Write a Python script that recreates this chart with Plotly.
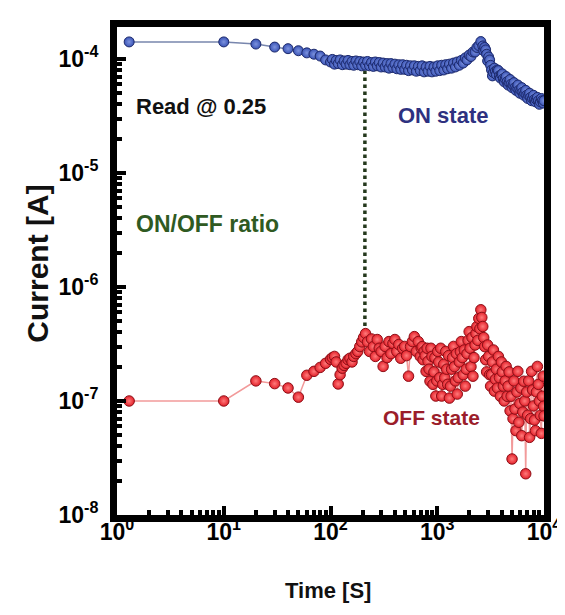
import plotly.graph_objects as go

# ---------------- data ----------------
time_s = [1.3, 10, 20, 30, 40, 50, 60, 70, 80, 90,
          100, 104, 109, 113, 118, 123, 129, 134, 140, 146,
          152, 159, 165, 173, 180, 188, 196, 204, 213, 222,
          232, 242, 252, 263, 274, 286, 298, 311, 325, 339,
          353, 368, 384, 401, 418, 436, 455, 474, 495, 516,
          538, 561, 585, 610, 637, 664, 693, 722, 753, 786,
          820, 855, 892, 930, 970, 1010, 1055, 1100, 1150, 1200,
          1250, 1300, 1360, 1420, 1480, 1540, 1610, 1680, 1750, 1830,
          1900, 1990, 2070, 2160, 2260, 2350, 2450, 2560, 2670, 2780,
          2900, 3030, 3160, 3290, 3430, 3580, 3740, 3900, 4070, 4240,
          4420, 4610, 4810, 5020, 5230, 5460, 5690, 5940, 6190, 6460,
          6740, 7030, 7330, 7650, 7970, 8320, 8670, 9050, 9440, 9840,
          10000]

# ON-state current, in units of 1e-5 A
on_current_e5 = [14.1, 14.1, 13.5, 12.7, 12.3, 11.8, 11.3, 11.0, 10.6, 9.8,
                 9.4, 9.9, 9.0, 9.7, 9.1, 9.8, 8.9, 9.6, 9.0, 9.7,
                 8.9, 9.5, 8.8, 9.6, 8.9, 9.5, 8.7, 9.4, 8.8, 9.5,
                 8.7, 9.3, 8.6, 9.4, 8.7, 9.3, 8.5, 9.2, 8.5, 9.1,
                 8.3, 9.1, 8.4, 9.0, 8.2, 8.9, 8.1, 8.9, 8.1, 8.8,
                 7.9, 8.7, 8.0, 8.7, 7.8, 8.6, 7.9, 8.7, 7.7, 8.5,
                 7.8, 8.6, 7.7, 8.5, 7.8, 8.7, 7.9, 8.8, 8.0, 8.9,
                 8.2, 9.0, 8.3, 9.2, 8.5, 9.4, 8.8, 9.7, 9.2, 10.2,
                 9.8, 10.8, 10.5, 11.5, 11.5, 12.6, 13.1, 14.2, 13.0, 12.6,
                 11.0, 10.4, 8.8, 7.1, 8.3, 7.3, 7.9, 6.8, 7.4, 6.3,
                 7.0, 5.9, 6.6, 5.6, 6.2, 5.3, 5.9, 5.0, 5.6, 4.8,
                 5.3, 4.5, 5.0, 4.3, 4.8, 4.2, 4.6, 4.0, 4.5, 4.1,
                 4.3]

# OFF-state current, in units of 1e-7 A
off_current_e7 = [1.0, 1.0, 1.5, 1.42, 1.3, 1.08, 1.68, 1.82, 1.97, 2.14,
                  2.32, 2.40, 2.46, 2.2, 1.41, 1.7, 1.94, 2.05, 2.14, 2.3,
                  2.37, 2.2, 2.46, 2.6, 2.72, 3.0, 3.3, 3.6, 3.9, 3.3,
                  2.72, 3.5, 3.0, 2.46, 3.46, 2.9, 2.72, 2.01, 3.01, 2.4,
                  3.32, 2.6, 3.2, 3.46, 2.72, 3.13, 2.37, 2.9, 3.01, 2.5,
                  1.65, 3.0, 3.32, 3.67, 2.72, 3.32, 2.46, 3.0, 2.72, 1.82,
                  2.23, 1.49, 2.46, 1.8, 1.105, 2.72, 1.6, 1.105, 2.1, 2.72,
                  1.4, 1.06, 1.9, 3.01, 1.5, 1.15, 2.2, 3.32, 1.7, 1.35,
                  2.6, 4.06, 2.0, 1.65, 3.1, 4.49, 5.3, 6.31, 4.5, 3.0,
                  1.8, 2.46, 1.35, 2.2, 1.22, 1.9, 2.46, 1.1, 1.8, 1.0,
                  2.01, 1.35, 0.819, 0.31, 1.5, 0.549, 1.82, 0.95, 0.496, 1.49,
                  0.23, 0.75, 0.48, 1.82, 0.905, 0.549, 2.01, 1.0, 0.52, 1.65,
                  0.74]

# additional readings in the dense part of the measurement
on_extra_time = [2725, 2840, 2965, 3095, 3225, 3360, 3505, 3660, 3820, 3985,
                 4155, 4330, 4515, 4710, 4915, 5125, 5345, 5575, 5815, 6065,
                 6325, 6600, 6885, 7180, 7490, 7810, 8145, 8495, 8860, 9245, 9640]
on_extra_current_e5 = [11.8, 12.0, 9.6, 9.8, 8.0, 7.6, 7.8, 8.0, 7.1, 7.3,
                       6.7, 6.7, 6.3, 6.2, 6.0, 5.9, 5.6, 5.6, 5.3, 5.3,
                       5.1, 5.0, 4.8, 4.8, 4.6, 4.5, 4.4, 4.4, 4.3, 4.2, 4.3]

off_extra_time = [707, 737, 770, 803, 837, 873, 911, 950, 990, 1032,
                  1077, 1125, 1175, 1225, 1275, 1330, 1390, 1450, 1510, 1575,
                  1645, 1715, 1790, 1865, 1945, 2030, 2115, 2210, 2305, 2400,
                  2505, 2615, 2725, 2840, 2965, 3095, 3225, 3360, 3505, 3660,
                  3820, 3985, 4155, 4330, 4515, 4710, 4915, 5125, 5345, 5575,
                  5815, 6065, 6325, 6600, 6885, 7180, 7490, 7810, 8145, 8495,
                  8860, 9245, 9640, 9920]
off_extra_current_e7 = [2.9, 2.3, 2.5, 2.9, 1.9, 2.9, 1.4, 2.4, 1.5, 2.2,
                        2.9, 1.4, 1.6, 1.9, 2.5, 1.35, 2.4, 2.0, 2.6, 1.6,
                        2.7, 2.4, 2.8, 1.9, 3.4, 2.9, 3.6, 2.4, 3.9, 3.4,
                        4.3, 5.4, 3.6, 2.3, 3.1, 1.7, 1.7, 2.8, 1.55, 1.3,
                        1.6, 2.2, 1.35, 1.5, 1.1, 1.8, 1.1, 0.7, 0.85, 1.2,
                        0.65, 1.3, 0.8, 1.0, 1.2, 1.5, 0.7, 1.25, 0.68, 1.2,
                        1.4, 0.75, 1.1, 0.9]

ratio_time = [210, 210]
ratio_current = [7.9e-5, 4.0e-7]

x_tick_vals = [1, 10, 100, 1000, 10000]
x_tick_text = ["10<sup>0</sup>", "10<sup>1</sup>", "10<sup>2</sup>", "10<sup>3</sup>", "10<sup>4</sup>"]
y_tick_vals = [1e-8, 1e-7, 1e-6, 1e-5, 1e-4]
y_tick_text = ["10<sup>-8</sup>", "10<sup>-7</sup>", "10<sup>-6</sup>", "10<sup>-5</sup>", "10<sup>-4</sup>"]


def merged(t_main, v_main, t_more, v_more, unit):
    pairs = sorted(list(zip(t_main, v_main)) + list(zip(t_more, v_more)))
    return [p[0] for p in pairs], [p[1] * unit for p in pairs]


on_t, on_i = merged(time_s, on_current_e5, on_extra_time, on_extra_current_e5, 1e-5)
off_t, off_i = merged(time_s, off_current_e7, off_extra_time, off_extra_current_e7, 1e-7)

FONT = "Liberation Sans, Arial, sans-serif"

fig = go.Figure()

fig.add_trace(go.Scatter(
    x=ratio_time, y=ratio_current, mode="lines",
    line=dict(color="#24381c", width=3.5, dash="dot"), hoverinfo="skip"))

fig.add_trace(go.Scatter(
    x=off_t, y=off_i, mode="lines+markers",
    line=dict(color="#f29a9a", width=1.5),
    marker=dict(size=10.5, color="#e3202a", line=dict(color="#8e0f17", width=1),
                gradient=dict(type="radial", color="#ff7b7b")),
    cliponaxis=True))

fig.add_trace(go.Scatter(
    x=on_t, y=on_i, mode="lines+markers",
    line=dict(color="#7886ad", width=1.5),
    marker=dict(size=10, color="#3a54b6", line=dict(color="#1d2a6c", width=1),
                gradient=dict(type="radial", color="#7d93de")),
    cliponaxis=True))

axis_common = dict(
    showline=True, linewidth=7, linecolor="black", mirror=True,
    ticks="inside", ticklen=9, tickwidth=3.5, tickcolor="black",
    showgrid=False, zeroline=False,
    tickfont=dict(family=FONT, size=23, color="black", weight="bold"),
    minor=dict(ticks="inside", ticklen=5, tickwidth=3.5, tickcolor="black", dtick="D1", showgrid=False),
)

fig.update_xaxes(type="log", range=[0, 4], tickvals=x_tick_vals, ticktext=x_tick_text,
                 ticklabelstandoff=-10, **axis_common)
fig.update_yaxes(type="log", range=[-8, -3.72], tickvals=y_tick_vals, ticktext=y_tick_text,
                 ticklabelstandoff=7, **axis_common)


def txt(s, x, y, color, size, angle=0):
    return dict(text=s, x=x, y=y, xref="paper", yref="paper", showarrow=False,
                xanchor="center", yanchor="middle", textangle=angle,
                font=dict(family=FONT, size=size, color=color, weight="bold"))


fig.update_layout(
    width=565, height=615,
    margin=dict(l=109, r=19, t=18, b=108),
    paper_bgcolor="white", plot_bgcolor="white",
    showlegend=False,
    annotations=[
        txt("Read @ 0.25", 0.197, 0.838, "#111111", 22),
        txt("ON state", 0.764, 0.818, "#2e3180", 22),
        txt("ON/OFF ratio", 0.213, 0.597, "#2f5a22", 23),
        txt("OFF state", 0.737, 0.200, "#9b1d2a", 21),
        txt("Time [S]", 0.494, -0.155, "#111111", 22),
        txt("Current [A]", -0.185, 0.515, "#111111", 30, angle=-90),
    ],
)

fig.write_html("out.html")
